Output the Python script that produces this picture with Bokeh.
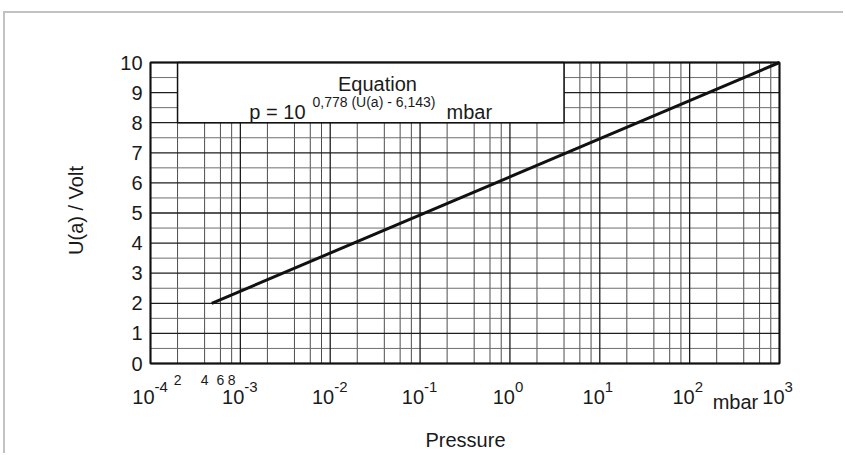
import math
from bokeh.plotting import figure
from bokeh.models import Label, BoxAnnotation, Range1d
from bokeh.embed import file_html
from bokeh.resources import INLINE

# ---------------- data ----------------
pressure = [4.8e-4, 1e3]          # mbar
voltage = [2.0, 10.0]             # U(a) / Volt
y_ticks = [0, 1, 2, 3, 4, 5, 6, 7, 8, 9, 10]
y_minor = [0.5, 1.5, 2.5, 3.5, 4.5, 5.5, 6.5, 7.5, 8.5, 9.5]
decade_exponents = [-4, -3, -2, -1, 0, 1, 2, 3]
minor_factors = [2, 4, 6, 8]
first_decade_labels = ["2", "4", "6", "8"]
box_left, box_right, box_bottom, box_top = 2e-4, 4.0, 8.0, 10.0
equation_title = "Equation"
equation_main = "p = 10"
equation_exp = "0,778 (U(a) - 6,143)"
equation_unit = "mbar"
x_title = "Pressure"
y_title = "U(a) / Volt"

FONT = "Liberation Sans"
TXT = "#1a1a1a"
BIG = "20px"

decades = [10.0 ** e for e in decade_exponents]
minor_x = [f * d for d in decades[:-1] for f in minor_factors]

# ---------------- layout (page pixels) ----------------
CL, CT, CW, CH = 5, 13, 840, 442          # canvas origin and size on the page
PL, PR, PT, PB = 150, 779, 62, 363        # plot-area box on the page
px_dec = (PR - PL) / (decade_exponents[-1] - decade_exponents[0])
px_v = (PB - PT) / (y_ticks[-1] - y_ticks[0])
x_start = 10 ** (decade_exponents[0] - (PL - CL) / px_dec)
x_end = 10 ** (decade_exponents[-1] + (CL + CW - PR) / px_dec)
y_start = y_ticks[0] - (CT + CH - PB) / px_v
y_end = y_ticks[-1] + (PT - CT) / px_v


def sx(px):
    return px - CL


def sy(py):
    return CT + CH - py


p = figure(width=CW, height=CH, x_axis_type="log",
           x_range=Range1d(x_start, x_end), y_range=Range1d(y_start, y_end),
           output_backend="svg", toolbar_location=None,
           min_border=0, min_border_left=0, min_border_right=0,
           min_border_top=0, min_border_bottom=0)
p.styles = {"margin-left": "3px", "margin-top": "11px",
            "border-top": "2px solid #c2c2c2", "border-left": "2px solid #c2c2c2"}
p.axis.visible = False
p.grid.visible = False
p.background_fill_color = "white"
p.border_fill_color = "white"
p.outline_line_color = None

y0, y1 = y_ticks[0], y_ticks[-1]
x0, x1 = decades[0], decades[-1]

# grid
p.segment(x0=minor_x, y0=[y0] * len(minor_x), x1=minor_x, y1=[y1] * len(minor_x),
          line_color="#4e4e4e", line_width=1)
p.segment(x0=[x0] * len(y_minor), y0=y_minor, x1=[x1] * len(y_minor), y1=y_minor,
          line_color="#6e6e6e", line_width=1)
p.segment(x0=decades, y0=[y0] * len(decades), x1=decades, y1=[y1] * len(decades),
          line_color="#1e1e1e", line_width=1.3)
p.segment(x0=[x0] * len(y_ticks), y0=y_ticks, x1=[x1] * len(y_ticks), y1=y_ticks,
          line_color="#1e1e1e", line_width=1.3)

# characteristic line
p.line(pressure, voltage, line_width=3, color="#111111")

# equation box
p.add_layout(BoxAnnotation(left=box_left, right=box_right, bottom=box_bottom, top=box_top,
                           fill_color="white", fill_alpha=1.0,
                           line_color="#111111", line_width=1.5, line_alpha=1.0))
# plot outline
p.add_layout(BoxAnnotation(left=x0, right=x1, bottom=y0, top=y1,
                           fill_alpha=0.0, fill_color=None,
                           line_color="#111111", line_width=2, line_alpha=1.0))


def lab(**kw):
    kw.setdefault("text_font", FONT)
    kw.setdefault("text_color", TXT)
    kw.setdefault("text_baseline", "alphabetic")
    p.add_layout(Label(**kw))


# y tick labels
for v in y_ticks:
    lab(x=x0, y=v, text=str(v), text_align="right", text_baseline="middle",
        x_offset=-8, text_font_size=BIG)

# x tick labels 10^n
for e, d in zip(decade_exponents, decades):
    off = 4 if e < 0 else 5
    lab(x=d, y=sy(396), y_units="screen", text="10", text_align="right",
        x_offset=off, text_font_size=BIG)
    lab(x=d, y=sy(386), y_units="screen", text=str(e), text_align="left",
        x_offset=off, text_font_size="15px")

# first decade minor labels
for f, t in zip(minor_factors, first_decade_labels):
    lab(x=f * decades[0], y=sy(379), y_units="screen", text=t,
        text_align="center", text_font_size="14px")

# unit label on x axis
lab(x=decades[6], y=sy(401), y_units="screen", text="mbar", text_align="left",
    x_offset=23, text_font_size=BIG)

# axis titles
lab(x=sx(465), y=sy(439), x_units="screen", y_units="screen", text=x_title,
    text_align="center", text_font_size=BIG)
lab(x=sx(75), y=sy(210), x_units="screen", y_units="screen", text=y_title,
    text_align="center", text_baseline="middle", angle=math.pi / 2,
    text_font_size=BIG)

# equation text
lab(x=sx(377), y=sy(83), x_units="screen", y_units="screen", text=equation_title,
    text_align="center", text_font_size=BIG)
lab(x=sx(305), y=sy(111), x_units="screen", y_units="screen", text=equation_main,
    text_align="right", text_font_size=BIG)
lab(x=sx(312), y=sy(101), x_units="screen", y_units="screen", text=equation_exp,
    text_align="left", text_font_size="14px")
lab(x=sx(446), y=sy(111), x_units="screen", y_units="screen", text=equation_unit,
    text_align="left", text_font_size=BIG)

open("out.html", "w").write(file_html(p, INLINE))
